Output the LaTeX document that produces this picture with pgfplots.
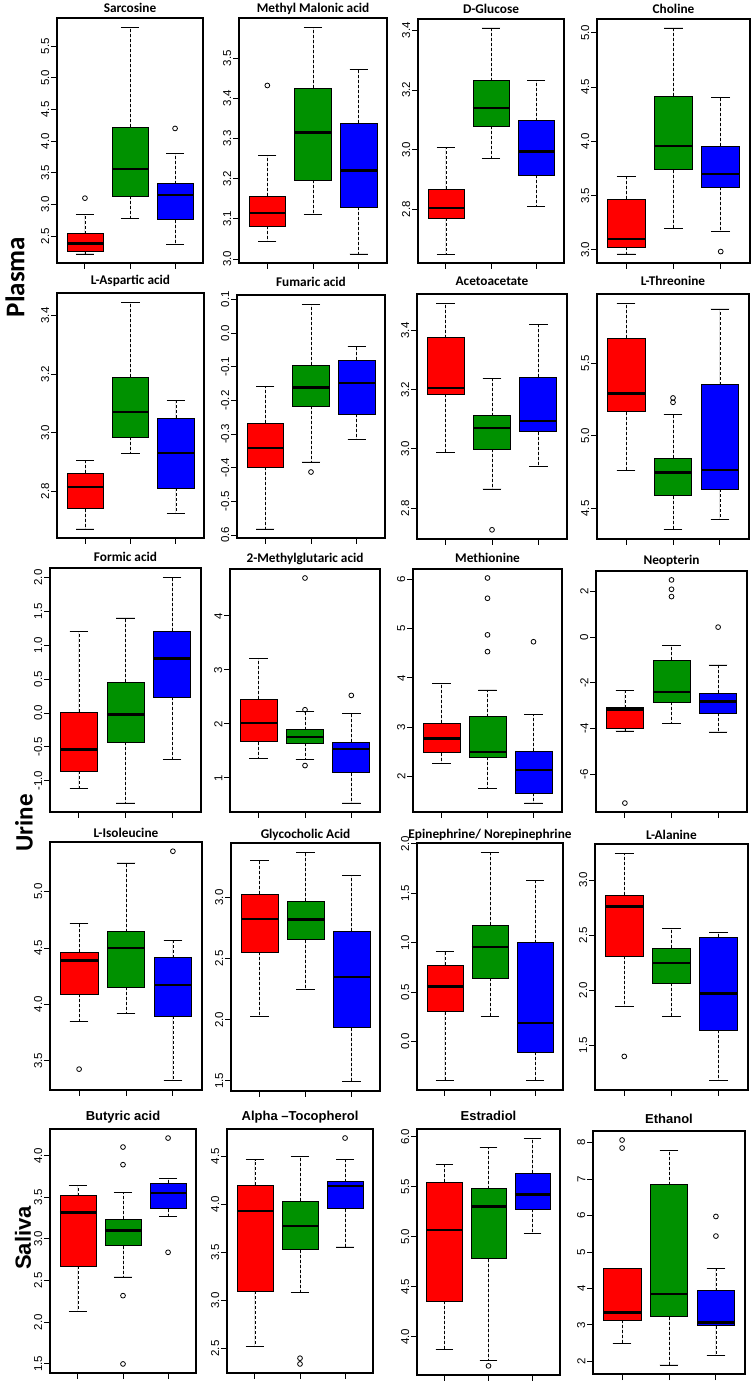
\documentclass[border=0pt]{standalone}
\usepackage{fontspec}
\usepackage{pgfplots}
\pgfplotsset{compat=1.18}
\usepgfplotslibrary{statistics}

\newfontfamily\lsans{Liberation Sans}
\newfontfamily\carl{Carlito}

\definecolor{rR}{RGB}{255,0,0}
\definecolor{rG}{RGB}{0,145,0}
\definecolor{rB}{RGB}{0,0,255}

% R-like boxplot panels; 1px of the reference = 1pt here
\pgfplotsset{
  every axis title/.style={at={(0.5,1)}, anchor=base},
  rbox/.style={
    scale only axis, anchor=south west,
    xmin=0.38, xmax=3.62,
    xtick={1,2,3}, xticklabels={},
    tick align=outside, major tick length=6pt,
    xtick pos=bottom, ytick pos=left,
    tick style={black, line width=0.9pt},
    axis line style={black, line width=1.2pt},
    yticklabel style={rotate=90, anchor=south, inner sep=1.5pt,
      font={\lsans\fontsize{11.5}{11.5}\selectfont}},
    title style={font={\carl\bfseries\fontsize{13.3}{14}\selectfont}},
    clip=false,
  },
  t5/.style={title style={font={\lsans\bfseries\fontsize{13}{14}\selectfont}}},
  rplot/.style={draw=black, line width=0.7pt,
    mark=o, mark size=2.4pt, mark options={black, solid, line width=0.8pt},
    boxplot/draw direction=y,
    boxplot/box extend=0.8, boxplot/whisker extend=0.4,
    boxplot/every median/.style={black, line width=2.6pt}},
  boxplot/draw/lower whisker/.code={%
    \draw[black, line width=0.7pt, dash pattern=on 3pt off 2pt]
      (boxplot box cs:\pgfplotsboxplotvalue{lower quartile},0.5) --
      (boxplot box cs:\pgfplotsboxplotvalue{lower whisker},0.5);
    \draw[black, line width=0.8pt]
      (boxplot whisker cs:\pgfplotsboxplotvalue{lower whisker},0) --
      (boxplot whisker cs:\pgfplotsboxplotvalue{lower whisker},1);
  },
  boxplot/draw/upper whisker/.code={%
    \draw[black, line width=0.7pt, dash pattern=on 3pt off 2pt]
      (boxplot box cs:\pgfplotsboxplotvalue{upper quartile},0.5) --
      (boxplot box cs:\pgfplotsboxplotvalue{upper whisker},0.5);
    \draw[black, line width=0.8pt]
      (boxplot whisker cs:\pgfplotsboxplotvalue{upper whisker},0) --
      (boxplot whisker cs:\pgfplotsboxplotvalue{upper whisker},1);
  },
}

% colour, position, lower whisker, Q1, median, Q3, upper whisker, outliers
\newcommand{\bx}[8]{\addplot[rplot, fill=#1, boxplot prepared={draw position=#2,
  lower whisker=#3, lower quartile=#4, median=#5, upper quartile=#6,
  upper whisker=#7}] coordinates {#8};}

\begin{document}
\begin{tikzpicture}
\path[use as bounding box] (0pt,0pt) rectangle (754pt,1389pt);

% ---------------- Plasma ----------------
\begin{axis}[rbox, at={(57pt,1126pt)}, width=146pt, height=245pt,
  title={Sarcosine}, title style={yshift=5pt},
  ymin=2.077, ymax=5.943, ytick={2.5,3,3.5,4,4.5,5,5.5},
  yticklabels={2.5,3.0,3.5,4.0,4.5,5.0,5.5}]
\bx{rR}{1}{2.22}{2.26}{2.38}{2.54}{2.84}{(1,3.10)}
\bx{rG}{2}{2.78}{3.13}{3.56}{4.22}{5.80}{}
\bx{rB}{3}{2.37}{2.76}{3.15}{3.33}{3.80}{(3,4.20)}
\end{axis}

\begin{axis}[rbox, at={(239pt,1126pt)}, width=148pt, height=245pt,
  title={Methyl Malonic acid}, title style={yshift=5pt},
  ymin=2.990, ymax=3.600, ytick={3.0,3.1,3.2,3.3,3.4,3.5},
  yticklabels={3.0,3.1,3.2,3.3,3.4,3.5}]
\bx{rR}{1}{3.043}{3.081}{3.114}{3.157}{3.258}{(1,3.432)}
\bx{rG}{2}{3.110}{3.196}{3.315}{3.425}{3.577}{}
\bx{rB}{3}{3.0125}{3.129}{3.221}{3.338}{3.471}{}
\end{axis}

\begin{axis}[rbox, at={(418pt,1126pt)}, width=146pt, height=244pt,
  title={D-Glucose}, title style={yshift=5pt},
  ymin=2.620, ymax=3.438, ytick={2.8,3.0,3.2,3.4},
  yticklabels={2.8,3.0,3.2,3.4}]
\bx{rR}{1}{2.650}{2.771}{2.804}{2.868}{3.008}{}
\bx{rG}{2}{2.969}{3.078}{3.140}{3.231}{3.408}{}
\bx{rB}{3}{2.810}{2.914}{2.994}{3.097}{3.231}{}
\end{axis}

\begin{axis}[rbox, at={(597pt,1126pt)}, width=153pt, height=244pt,
  title={Choline}, title style={yshift=5pt},
  ymin=2.880, ymax=5.126, ytick={3,3.5,4,4.5,5},
  yticklabels={3.0,3.5,4.0,4.5,5.0}]
\bx{rR}{1}{2.963}{3.025}{3.099}{3.465}{3.678}{}
\bx{rG}{2}{3.197}{3.740}{3.958}{4.418}{5.043}{}
\bx{rB}{3}{3.173}{3.580}{3.700}{3.955}{4.402}{(3,2.985)}
\end{axis}

\begin{axis}[rbox, at={(57pt,851pt)}, width=147pt, height=245pt,
  title={L-Aspartic acid}, title style={yshift=8pt},
  ymin=2.641, ymax=3.477, ytick={2.8,3.0,3.2,3.4},
  yticklabels={2.8,3.0,3.2,3.4}]
\bx{rR}{1}{2.672}{2.741}{2.815}{2.863}{2.905}{}
\bx{rG}{2}{2.929}{2.986}{3.071}{3.189}{3.446}{}
\bx{rB}{3}{2.726}{2.810}{2.931}{3.049}{3.109}{}
\end{axis}

\begin{axis}[rbox, at={(237pt,851pt)}, width=148pt, height=243pt,
  title={Fumaric acid}, title style={yshift=8pt},
  ymin=-0.609, ymax=0.113, ytick={-0.6,-0.5,-0.4,-0.3,-0.2,-0.1,0,0.1},
  yticklabels={0.6,-0.5,-0.4,-0.3,-0.2,-0.1,0.0,0.1}]
\bx{rR}{1}{-0.582}{-0.399}{-0.342}{-0.267}{-0.160}{}
\bx{rG}{2}{-0.383}{-0.218}{-0.161}{-0.095}{0.086}{(2,-0.413)}
\bx{rB}{3}{-0.315}{-0.241}{-0.149}{-0.081}{-0.040}{}
\end{axis}

\begin{axis}[rbox, at={(417pt,850pt)}, width=150pt, height=245pt,
  title={Acetoacetate}, title style={yshift=8pt},
  ymin=2.696, ymax=3.523, ytick={2.8,3.0,3.2,3.4},
  yticklabels={2.8,3.0,3.2,3.4}]
\bx{rR}{1}{2.987}{3.185}{3.206}{3.375}{3.492}{}
\bx{rG}{2}{2.865}{3.000}{3.070}{3.112}{3.239}{(2,2.727)}
\bx{rB}{3}{2.940}{3.058}{3.094}{3.242}{3.421}{}
\end{axis}

\begin{axis}[rbox, at={(597pt,850pt)}, width=152pt, height=245pt,
  title={L-Threonine}, title style={yshift=8pt},
  ymin=4.290, ymax=5.975, ytick={4.5,5,5.5},
  yticklabels={4.5,5.0,5.5}]
\bx{rR}{1}{4.764}{5.165}{5.291}{5.670}{5.913}{}
\bx{rG}{2}{4.353}{4.587}{4.748}{4.846}{5.144}{(2,5.23) (2,5.26)}
\bx{rB}{3}{4.427}{4.633}{4.764}{5.351}{5.872}{}
\end{axis}

% ---------------- Urine ----------------
\begin{axis}[rbox, at={(50pt,577pt)}, width=151pt, height=244pt,
  title={Formic acid}, title style={yshift=6pt},
  ymin=-1.461, ymax=2.140, ytick={-1,-0.5,0,0.5,1,1.5,2},
  yticklabels={-1.0,-0.5,0.0,0.5,1.0,1.5,2.0}]
\bx{rR}{1}{-1.107}{-0.861}{-0.541}{0.015}{1.205}{}
\bx{rG}{2}{-1.328}{-0.428}{-0.025}{0.457}{1.402}{}
\bx{rB}{3}{-0.689}{0.236}{0.802}{1.205}{2.007}{}
\end{axis}

\begin{axis}[rbox, at={(230pt,577pt)}, width=150pt, height=243pt,
  title={2-Methylglutaric acid}, title style={yshift=6pt},
  ymin=0.367, ymax=4.867, ytick={1,2,3,4},
  yticklabels={1,2,3,4}]
\bx{rR}{1}{1.363}{1.672}{2.012}{2.458}{3.218}{}
\bx{rG}{2}{1.332}{1.641}{1.753}{1.889}{2.229}{(2,2.26) (2,1.227) (2,4.70)}
\bx{rB}{3}{0.534}{1.097}{1.536}{1.654}{2.186}{(3,2.526)}
\end{axis}

\begin{axis}[rbox, at={(413pt,577pt)}, width=149pt, height=243pt,
  title={Methionine}, title style={yshift=6pt},
  ymin=1.287, ymax=6.202, ytick={2,3,4,5,6},
  yticklabels={2,3,4,5,6}]
\bx{rR}{1}{2.262}{2.484}{2.773}{3.082}{3.896}{}
\bx{rG}{2}{1.771}{2.390}{2.497}{3.217}{3.755}{(2,4.53) (2,4.87) (2,5.61) (2,6.02)}
\bx{rB}{3}{1.469}{1.671}{2.134}{2.518}{3.264}{(3,4.73)}
\end{axis}

\begin{axis}[rbox, at={(596pt,577pt)}, width=151pt, height=241pt,
  title={Neopterin}, title style={yshift=6pt},
  ymin=-7.65, ymax=2.89, ytick={-6,-4,-2,0,2},
  yticklabels={-6,-4,-2,0,2}]
\bx{rR}{1}{-4.107}{-3.99}{-3.164}{-3.091}{-2.337}{(1,-7.26)}
\bx{rG}{2}{-3.788}{-2.845}{-2.41}{-1.016}{-0.348}{(2,1.77) (2,2.09) (2,2.50)}
\bx{rB}{3}{-4.151}{-3.338}{-2.83}{-2.467}{-1.219}{(3,0.435)}
\end{axis}

\begin{axis}[rbox, at={(50pt,299pt)}, width=152pt, height=248pt,
  title={L-Isoleucine}, title style={yshift=4pt},
  ymin=3.240, ymax=5.440, ytick={3.5,4,4.5,5},
  yticklabels={3.5,4.0,4.5,5.0}]
\bx{rR}{1}{3.852}{4.089}{4.388}{4.46}{4.714}{(1,3.425)}
\bx{rG}{2}{3.92}{4.151}{4.498}{4.643}{5.254}{}
\bx{rB}{3}{3.321}{3.896}{4.172}{4.415}{4.563}{(3,5.358)}
\end{axis}

\begin{axis}[rbox, at={(231pt,298pt)}, width=149pt, height=248pt,
  title={Glycocholic Acid}, title style={yshift=4pt},
  ymin=1.417, ymax=3.445, ytick={1.5,2,2.5,3},
  yticklabels={1.5,2.0,2.5,3.0}]
\bx{rR}{1}{2.027}{2.554}{2.823}{3.027}{3.302}{}
\bx{rG}{2}{2.247}{2.655}{2.818}{2.967}{3.37}{}
\bx{rB}{3}{1.492}{1.935}{2.348}{2.723}{3.182}{}
\end{axis}

\begin{axis}[rbox, at={(417pt,299pt)}, width=146pt, height=247pt,
  title={Epinephrine/ Norepinephrine}, title style={yshift=4pt},
  ymin=-0.492, ymax=2.009, ytick={0,0.5,1,1.5,2},
  yticklabels={0.0,0.5,1.0,1.5,2.0}]
\bx{rR}{1}{-0.399}{0.301}{0.557}{0.774}{0.912}{}
\bx{rG}{2}{0.253}{0.642}{0.956}{1.176}{1.916}{}
\bx{rB}{3}{-0.395}{-0.108}{0.186}{1.0}{1.632}{}
\end{axis}

\begin{axis}[rbox, at={(595pt,299pt)}, width=153pt, height=246pt,
  title={L-Alanine}, title style={yshift=4pt},
  ymin=1.093, ymax=3.327, ytick={1.5,2,2.5,3},
  yticklabels={1.5,2.0,2.5,3.0}]
\bx{rR}{1}{1.851}{2.307}{2.758}{2.864}{3.244}{(1,1.398)}
\bx{rG}{2}{1.76}{2.064}{2.246}{2.383}{2.56}{}
\bx{rB}{3}{1.176}{1.638}{1.967}{2.478}{2.526}{}
\end{axis}

% ---------------- Saliva ----------------
\begin{axis}[rbox, t5, at={(50pt,16pt)}, width=146pt, height=244pt,
  title={Butyric acid}, title style={yshift=8pt},
  ymin=1.387, ymax=4.321, ytick={1.5,2,2.5,3,3.5,4},
  yticklabels={1.5,2.0,2.5,3.0,3.5,4.0}]
\bx{rR}{1}{2.129}{2.670}{3.319}{3.519}{3.639}{}
\bx{rG}{2}{2.542}{2.918}{3.103}{3.239}{3.559}{(2,4.104) (2,3.892) (2,2.317) (2,1.496)}
\bx{rB}{3}{3.271}{3.363}{3.551}{3.671}{3.724}{(3,4.212) (3,2.838)}
\end{axis}

\begin{axis}[rbox, t5, at={(227pt,16pt)}, width=146pt, height=244pt,
  title={Alpha –Tocopherol}, title style={yshift=8pt},
  ymin=2.246, ymax=4.784, ytick={2.5,3,3.5,4,4.5},
  yticklabels={2.5,3.0,3.5,4.0,4.5}]
\bx{rR}{1}{2.526}{3.094}{3.930}{4.202}{4.463}{}
\bx{rG}{2}{3.087}{3.530}{3.774}{4.035}{4.498}{(2,2.40) (2,2.34)}
\bx{rB}{3}{3.557}{3.955}{4.192}{4.237}{4.47}{(3,4.69)}
\end{axis}

\begin{axis}[rbox, t5, at={(417pt,14pt)}, width=143pt, height=246pt,
  title={Estradiol}, title style={yshift=8pt},
  ymin=3.619, ymax=6.079, ytick={4,4.5,5,5.5,6},
  yticklabels={4.0,4.5,5.0,5.5,6.0}]
\bx{rR}{1}{3.876}{4.36}{5.07}{5.544}{5.726}{}
\bx{rG}{2}{3.76}{4.781}{5.302}{5.481}{5.896}{(2,3.71)}
\bx{rB}{3}{5.036}{5.279}{5.425}{5.634}{5.988}{}
\end{axis}

\begin{axis}[rbox, t5, at={(593pt,15pt)}, width=152pt, height=243pt,
  title={Ethanol}, title style={yshift=8pt},
  ymin=1.653, ymax=8.317, ytick={2,3,4,5,6,7,8},
  yticklabels={2,3,4,5,6,7,8}]
\bx{rR}{1}{2.482}{3.136}{3.336}{4.545}{4.545}{(1,7.85) (1,8.07)}
\bx{rG}{2}{1.90}{3.227}{3.845}{6.845}{7.773}{}
\bx{rB}{3}{2.164}{2.982}{3.073}{3.936}{4.545}{(3,5.436) (3,5.973)}
\end{axis}

% group labels
\node[rotate=90, font={\carl\bfseries\fontsize{27}{27}\selectfont}] at (15pt,1112pt) {Plasma};
\node[rotate=90, font={\carl\bfseries\fontsize{25}{25}\selectfont}] at (24pt,566pt) {Urine};
\node[rotate=90, font={\lsans\bfseries\fontsize{22}{22}\selectfont}] at (23pt,151pt) {Saliva};
\end{tikzpicture}
\end{document}
